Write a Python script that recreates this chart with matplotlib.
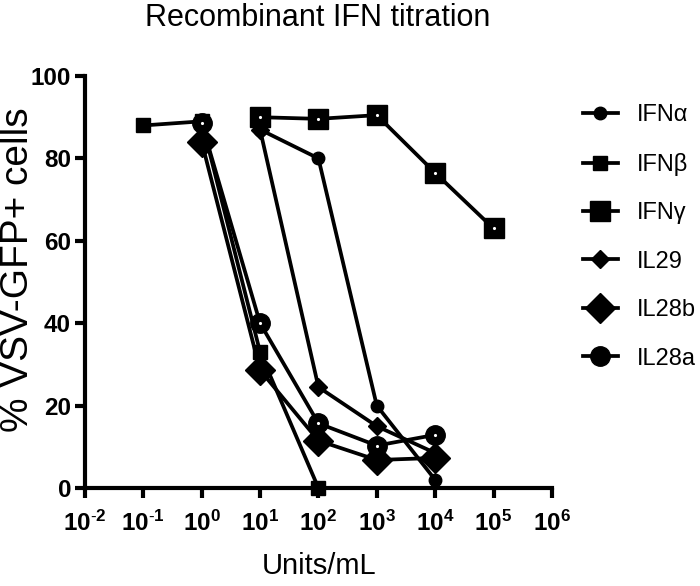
import matplotlib
matplotlib.use("Agg")
import matplotlib.pyplot as plt

FAM = 'Liberation Sans'
plt.rcParams['font.family'] = [FAM, 'DejaVu Sans']
plt.rcParams['mathtext.fontset'] = 'custom'
plt.rcParams['mathtext.rm'] = FAM
plt.rcParams['mathtext.bf'] = FAM + ':bold'

# ---- data ----
ifna_x = [1e1, 1e2, 1e3, 1e4]
ifna_y = [87, 80, 20, 2]
ifnb_x = [1e-1, 1e0, 1e1, 1e2]
ifnb_y = [88, 89, 33, 0]
ifng_x = [1e1, 1e2, 1e3, 1e4, 1e5]
ifng_y = [90, 89.6, 90.5, 76.5, 63]
il29_x = [1e1, 1e2, 1e3, 1e4]
il29_y = [87, 24.5, 15, 8.5]
il28b_x = [1e0, 1e1, 1e2, 1e3, 1e4]
il28b_y = [84, 28.6, 11.5, 6.8, 7.3]
il28a_x = [1e0, 1e1, 1e2, 1e3, 1e4]
il28a_y = [88.5, 40, 15.7, 10.3, 12.9]

labels = ['IFN\u03b1', 'IFN\u03b2', 'IFN\u03b3', 'IL29', 'IL28b', 'IL28a']
xticks = [1e-2, 1e-1, 1e0, 1e1, 1e2, 1e3, 1e4, 1e5, 1e6]
xtick_exps = ['-2', '-1', '0', '1', '2', '3', '4', '5', '6']
yticks = [0, 20, 40, 60, 80, 100]

fig = plt.figure(figsize=(7.0, 5.86), dpi=100)
ax = fig.add_axes([0.1214, 0.1672, 0.667, 0.7031])

lw = 2.7
common = dict(color='black', lw=lw, clip_on=False, markeredgecolor='black', markerfacecolor='black')
h = []
h.append(ax.plot(ifna_x, ifna_y, marker='o', ms=9, label=labels[0], **common)[0])
h.append(ax.plot(ifnb_x, ifnb_y, marker='s', ms=9.5, label=labels[1], **common)[0])
h.append(ax.plot(ifng_x, ifng_y, marker='s', ms=14, label=labels[2], **common)[0])
h.append(ax.plot(il29_x, il29_y, marker='D', ms=9, label=labels[3], **common)[0])
h.append(ax.plot(il28b_x, il28b_y, marker='D', ms=15, label=labels[4], **common)[0])
h.append(ax.plot(il28a_x, il28a_y, marker='o', ms=14, label=labels[5], **common)[0])
# small white inner dots
ax.plot(ifng_x, ifng_y, ls='none', marker='.', ms=2.5, color='white', clip_on=False, zorder=5)
ax.plot(il28a_x, il28a_y, ls='none', marker='.', ms=2.5, color='white', clip_on=False, zorder=5)

ax.set_xscale('log')
ax.set_xlim(1e-2, 1e6)
ax.set_ylim(0, 100)
ax.set_xticks(xticks)
ax.set_xticklabels([r'$\mathbf{10^{%s}}$' % e.replace('-', r'\text{-}') for e in xtick_exps], fontsize=17.5)
ax.minorticks_off()
ax.set_yticks(yticks)
ax.set_yticklabels([str(v) for v in yticks], fontsize=17.5, fontweight='bold')

for s in ['top', 'right']:
    ax.spines[s].set_visible(False)
for s in ['left', 'bottom']:
    ax.spines[s].set_linewidth(3)
ax.tick_params(axis='both', which='major', direction='out', length=7, width=3, color='black')
ax.tick_params(axis='x', pad=9)
ax.tick_params(axis='y', pad=3)

fig.text(319 / 700, 1 - 566 / 586, 'Units/mL', fontsize=21, ha='center', va='center')
fig.text(36 / 700, 1 - 270 / 586, '% VSV-GFP+ cells', fontsize=28, rotation=90, ha='right', va='center')
fig.text(318 / 700, 1 - 18 / 586, 'Recombinant IFN titration', fontsize=22, ha='center', va='center')

leg = ax.legend(handles=h, loc='upper left', bbox_to_anchor=(0.819, 0.838), bbox_transform=fig.transFigure,
                frameon=False, fontsize=17, handlelength=1.5, handletextpad=0.8, labelspacing=1.12,
                borderaxespad=0)

fig.savefig('out.png', dpi=100)
